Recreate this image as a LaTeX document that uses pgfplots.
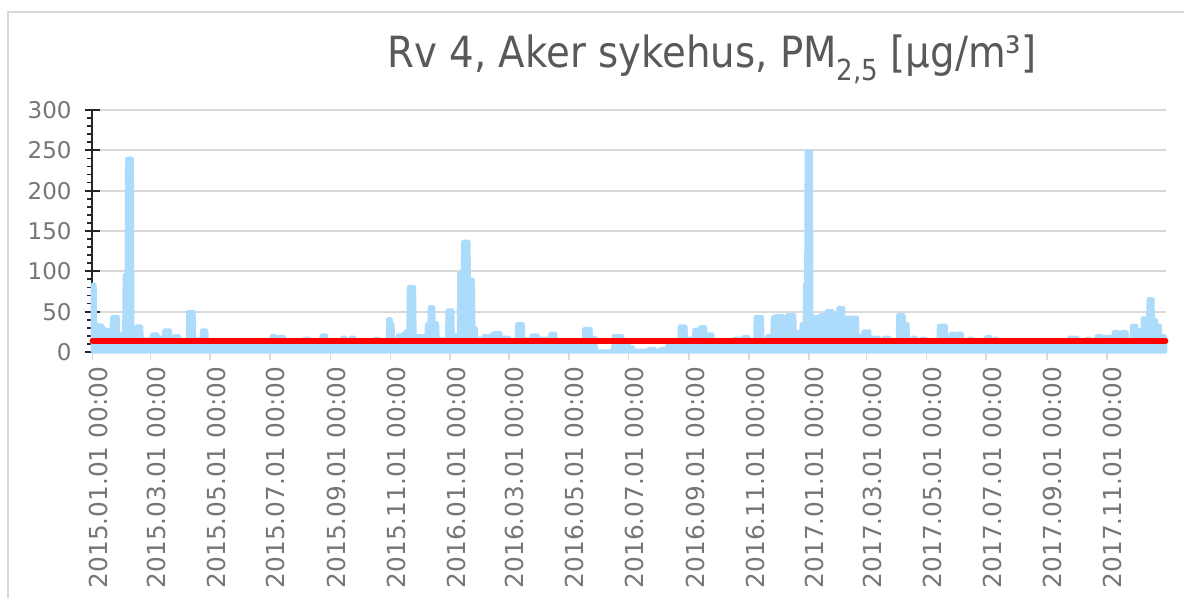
\documentclass[border=0pt]{standalone}
\usepackage{fontspec}
\setmainfont{DejaVu Sans}
\newfontfamily\titlefont[FakeStretch=0.9]{DejaVu Sans}
\usepackage{pgfplots}
\usepackage{pgfplotstable}
\pgfplotsset{compat=1.18}
\definecolor{pmblue}{RGB}{173,219,252}
\definecolor{ticktext}{RGB}{118,118,118}
\definecolor{titletext}{RGB}{89,89,89}
\definecolor{gridc}{RGB}{217,217,217}
\pgfplotstableread[row sep=\\]{
x y\\
0 84\\ 2.5 84\\ 3 34\\ 10 33\\ 11 30\\ 15 27\\ 19 27\\ 20 44\\ 26 44\\ 26.5 24\\ 28 24\\ 29 18\\ 32 18\\ 32.5 96\\ 34.5 96\\ 35 240\\ 40.5 240\\ 41 23\\ 44 23\\ 44.5 32\\ 50 32\\ 50.5 16\\ 60 16\\ 60.5 22\\ 66.5 22\\ 67 18\\ 72.5 18\\ 73 27\\ 79.5 27\\ 80 17\\ 83 17\\ 83.5 20\\ 88.5 20\\ 89 15\\ 97 15\\ 97.5 50\\ 103.5 50\\ 104 16\\ 111 16\\ 111.5 27\\ 116.5 27\\ 117 14\\
182 14\\ 182.5 20\\ 187 20\\ 187.5 14\\ 189 14\\ 189.5 19\\ 195.5 19\\ 196 14\\ 215 14\\ 215.5 17\\ 221.5 17\\ 222 14\\ 233 14\\ 233.5 21\\ 238.5 21\\ 239 14\\ 254 14\\ 254.5 18\\ 258.5 18\\ 259 14\\ 263 14\\ 263.5 18\\ 267.5 18\\ 268 14\\ 288 14\\ 288.5 17\\ 292.5 17\\ 293 14\\
301 14\\ 301.5 41\\ 304.5 41\\ 305 35\\ 306.5 35\\ 307 16\\ 311 16\\ 311.5 21\\ 316.5 21\\ 317 22\\ 319 25\\ 322 27\\ 322.5 81\\ 328.5 81\\ 329 20\\ 340.5 20\\ 341 35\\ 343.5 35\\ 344 56\\ 348 56\\ 348.5 36\\ 352 36\\ 352.5 16\\ 361.5 16\\ 362 52\\ 367.5 52\\ 368 21\\ 373.5 21\\ 374 98\\ 377.5 98\\ 378 137\\ 384 137\\ 384.5 90\\ 388.5 90\\ 389 30\\ 391.5 30\\ 392 17\\ 398.5 17\\ 399 20\\ 404.5 20\\ 405 14\\ 407 14\\ 407.5 22\\ 411 24\\ 416.5 24\\ 417 18\\ 425.5 18\\ 426 15\\ 432.5 15\\ 433 35\\ 439.5 35\\ 440 16\\ 447.5 16\\ 448 21\\ 454.5 21\\ 455 17\\ 466.5 17\\ 467 23\\ 472.5 23\\ 473 15\\
501 15\\ 501.5 29\\ 508.5 29\\ 509 18\\ 513.5 18\\ 514 1\\ 531 1\\ 531.5 20\\ 541 20\\ 541.5 9\\ 547.5 9\\ 548 6\\ 552 6\\ 552.5 2\\ 567 2\\ 567.5 4\\ 574 4\\ 574.5 2\\ 579 2\\ 579.5 4\\ 586 4\\ 586.5 9\\ 598.5 9\\ 599 32\\ 605.5 32\\ 606 17\\ 613.5 17\\ 614 28\\ 619.5 28\\ 620 31\\ 625.5 31\\ 626 22\\ 633 22\\ 633.5 15\\ 654 15\\ 654.5 17\\ 660.5 17\\ 661 14\\ 663.5 14\\ 664 19\\ 669.5 19\\ 670 12\\ 672 3\\ 673 12\\ 676 12\\ 676.5 44\\ 683.5 44\\ 684 16\\ 688 16\\ 688.5 20\\ 693.5 20\\ 694 43\\ 698 45\\ 705 45\\ 705.5 24\\ 708 24\\ 708.5 46\\ 716.5 46\\ 717 25\\ 723 25\\ 723.5 35\\ 726.5 35\\ 727 85\\ 728 85\\ 728.5 249\\ 733.5 249\\
734 44\\ 741 44\\ 741.3 25\\ 742 25\\ 742.5 46\\ 748.5 46\\ 749 51\\ 755.5 51\\ 756 46\\ 760.5 46\\ 761 55\\ 766.5 55\\ 767 20\\ 768.5 20\\ 769 43\\ 780.5 43\\ 781 20\\ 786 20\\ 786.5 26\\ 793 26\\ 793.5 15\\ 795.5 15\\ 796 18\\ 803 18\\ 803.5 15\\ 807 15\\ 807.5 18\\ 813.5 18\\ 814 15\\ 821.5 15\\ 822 46\\ 828 46\\ 828.5 35\\ 832 35\\ 832.5 15\\ 836 15\\ 836.5 18\\ 840.5 18\\ 841 15\\ 845 15\\ 845.5 17\\ 850.5 17\\ 851 15\\ 863 15\\ 863.5 33\\ 871 33\\ 871.5 15\\ 875 15\\ 875.5 23\\ 880.5 23\\ 881 15\\ 882 15\\ 882.5 23\\ 887.5 23\\ 888 15\\ 894 15\\ 894.5 17\\ 898.5 17\\ 899 15\\ 911.5 15\\ 912 19\\ 916.5 19\\ 917 15\\ 920 15\\ 920.5 17\\ 923.5 17\\ 924 14\\
996 14\\ 996.5 18\\ 1005.5 18\\ 1006 14\\ 1014 14\\ 1014.5 17\\ 1017.5 17\\ 1018 14\\ 1024 14\\ 1024.5 20\\ 1030 20\\ 1030.5 19\\ 1040 19\\ 1040.5 15\\ 1041.5 15\\ 1042 25\\ 1047.5 25\\ 1048 15\\ 1049.5 15\\ 1050 25\\ 1055.5 25\\ 1056 15\\ 1060 15\\ 1060.5 33\\ 1065.5 33\\ 1066 27\\ 1070.5 27\\ 1071 15\\ 1071.5 42\\ 1077 42\\ 1077.5 66\\ 1082 66\\ 1082.5 40\\ 1085.5 40\\ 1086 33\\ 1089.5 33\\ 1090 20\\ 1094.5 20\\ 1095 14\\
}\pmdata
\begin{document}
\begin{tikzpicture}
\path[use as bounding box] (-46.25pt,-123pt) rectangle (545.75pt,176pt);
\draw[gridc, line width=0.8pt] (-42.25pt,-123pt) -- (-42.25pt,170pt) -- (545.75pt,170pt);
\begin{axis}[
  at={(0pt,0pt)}, anchor=south west,
  scale only axis, width=536.5pt, height=121pt,
  xmin=0, xmax=1095, ymin=0, ymax=300,
  axis x line=bottom, axis y line=left, axis line style={-},
  x axis line style={gridc, line width=1pt},
  y axis line style={black!85, line width=1pt},
  ytick={0,50,...,300}, minor y tick num=4,
  ymajorgrids, grid style={gridc, line width=1pt},
  extra y ticks={0,50,...,300}, extra y tick labels={},
  extra y tick style={tick align=inside, major tick length=3.6pt, grid=none},
  xtick={0,59,120,181,243,304,365,425,486,547,609,670,731,790,851,912,974,1035},
  xticklabels={2015.01.01 00:00,2015.03.01 00:00,2015.05.01 00:00,2015.07.01 00:00,2015.09.01 00:00,2015.11.01 00:00,2016.01.01 00:00,2016.03.01 00:00,2016.05.01 00:00,2016.07.01 00:00,2016.09.01 00:00,2016.11.01 00:00,2017.01.01 00:00,2017.03.01 00:00,2017.05.01 00:00,2017.07.01 00:00,2017.09.01 00:00,2017.11.01 00:00},
  tick align=outside, major tick length=3.9pt, minor tick length=2.6pt,
  xtick style={gridc, line width=0.8pt},
  ytick style={black!85, line width=0.9pt},
  x tick label style={rotate=90, anchor=east, font=\fontsize{12.4pt}{14pt}\selectfont, text=ticktext, yshift=-3pt},
  y tick label style={font=\fontsize{11.5pt}{14pt}\selectfont, text=ticktext, xshift=-3pt},
  /pgf/number format/assume math mode=true,
  clip=false,
]
\addplot[draw=pmblue, fill=pmblue, line width=1.75pt, line join=round] table {\pmdata} \closedcycle;
\addplot[red, line width=2.9pt, line cap=round] coordinates {(0,14) (1095,14)};
\end{axis}
\node[anchor=base, text=titletext, font=\titlefont\fontsize{21.5pt}{24pt}\selectfont] at (309.75pt,142pt) {Rv 4, Aker sykehus, PM\raisebox{-0.3em}{\fontsize{14.5pt}{14.5pt}\selectfont 2,5} [µg/m³]};
\end{tikzpicture}
\end{document}
